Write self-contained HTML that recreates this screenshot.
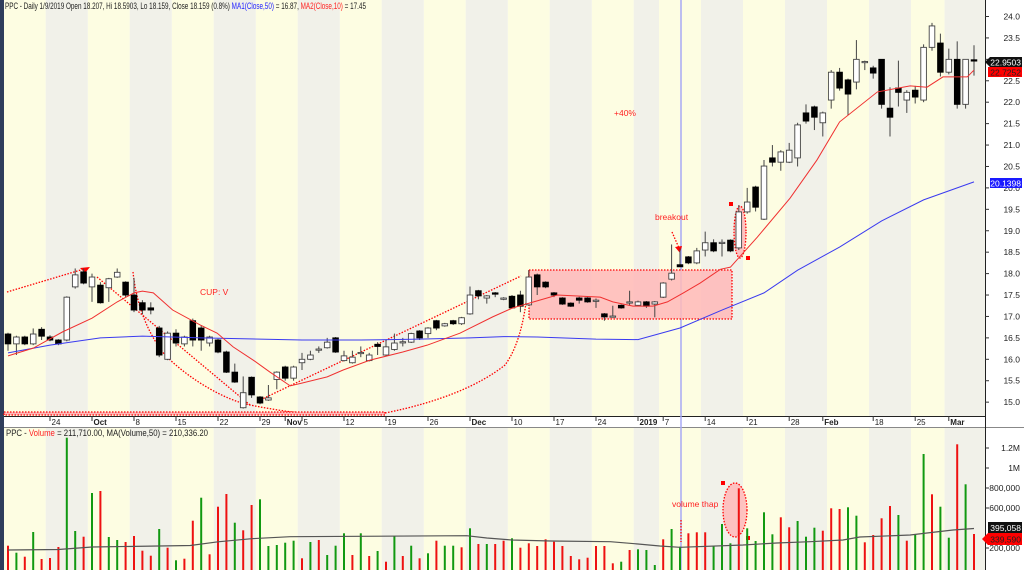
<!DOCTYPE html>
<html><head><meta charset="utf-8"><style>
html,body{margin:0;padding:0;background:#fff;}
svg{display:block;font-family:"Liberation Sans",sans-serif;}
</style></head><body>
<svg id="chart" width="1024" height="570" viewBox="0 0 1024 570" xmlns="http://www.w3.org/2000/svg">
<rect x="0" y="0" width="1024" height="570" fill="#ffffff"/>
<g id="stripes"></g>
<rect x="0" y="0" width="4" height="570" fill="#2f3d5c"/>
<rect x="4" y="416" width="981" height="11" fill="#ffffff"/>
<line x1="4" y1="416.5" x2="985" y2="416.5" stroke="#222"/>
<line x1="4" y1="427.5" x2="1024" y2="427.5" stroke="#888"/>
<line x1="985.5" y1="0" x2="985.5" y2="570" stroke="#222"/>
<g id="dateAxis"></g>
<g id="priceAxis"></g>
<g id="volAxis"></g>
<line x1="681" y1="0" x2="681" y2="570" stroke="#a8aaf5" stroke-width="1.5"/>
<g id="annot" fill="none" stroke="#f00" stroke-width="1.3" stroke-dasharray="1.5,1.5">
  <rect x="529" y="270" width="203" height="49" fill="#ffb8b8" fill-opacity="0.85"/>
  <ellipse cx="740" cy="232" rx="6" ry="26" fill="#ffb8b8" fill-opacity="0.85"/>
  <line x1="7" y1="292" x2="84" y2="269"/>
  <line x1="97" y1="277" x2="250" y2="405"/>
  <path d="M133,272 C136,300 145,330 165,355 C190,380 225,400 250,405 C270,409 290,412 300,413"/>
  <line x1="258" y1="401" x2="521" y2="276"/>
  <path d="M385,413 C440,402 480,385 505,365 C520,345 527,310 529,270"/>
  <rect x="4" y="412" width="381" height="3" fill="#ffb8b8"/>
  <line x1="672" y1="232" x2="679" y2="248"/>
  <ellipse cx="735" cy="510" rx="12" ry="27" fill="#ffb8b8" fill-opacity="0.85"/>
  <line x1="681" y1="520" x2="681" y2="542"/>
</g>
<g fill="#f00">
  <polygon points="80,268 90,267 85,273"/>
  <polygon points="675,247 682,246 680,253"/>
  <rect x="729" y="202" width="4" height="4"/>
  <rect x="746" y="256" width="4" height="4"/>
  <rect x="721" y="481" width="4" height="4"/>
  <rect x="746" y="536" width="4" height="4"/>
</g>
<g id="candles"></g>
<g id="vols"></g>
<polyline id="ma50" fill="none" stroke="#3a3af0" stroke-width="1"/>
<polyline id="ma10" fill="none" stroke="#f03030" stroke-width="1"/>
<polyline id="volma" fill="none" stroke="#555" stroke-width="1.2"/>
<g font-size="8.5" fill="#f22">
  <text x="200" y="295">CUP: V</text>
  <text x="614" y="116">+40%</text>
  <text x="655" y="220">breakout</text>
  <text x="672" y="507">volume thap</text>
</g>
<text x="5" y="9" font-size="9" fill="#222" textLength="361" lengthAdjust="spacingAndGlyphs">PPC - Daily 1/9/2019 Open 18.207, Hi 18.5903, Lo 18.159, Close 18.159 (0.8%) <tspan fill="#22f">MA1(Close,50)</tspan> = 16.87, <tspan fill="#f22">MA2(Close,10)</tspan> = 17.45</text>
<text x="6" y="436" font-size="9" fill="#222" textLength="202" lengthAdjust="spacingAndGlyphs">PPC - <tspan fill="#f22">Volume</tspan> = 211,710.00, MA(Volume,50) = 210,336.20</text>
<g id="boxes" font-size="8.5">
  <polygon points="985,62 990,57 1022,57 1022,67 990,67" fill="#111"/>
  <text x="1021" y="65.5" fill="#fff" text-anchor="end">22.9503</text>
  <rect x="988" y="67" width="34" height="10" fill="#f00"/>
  <text x="1021" y="75.5" fill="#222" text-anchor="end">22.7252</text>
  <rect x="990" y="178" width="32" height="10" fill="#1a1aff"/>
  <text x="1021" y="186.5" fill="#fff" text-anchor="end">20.1398</text>
  <rect x="988" y="522" width="34" height="11" fill="#111"/>
  <text x="1021" y="531" fill="#fff" text-anchor="end">395,058</text>
  <polygon points="982,539 988,533 1022,533 1022,545 988,545" fill="#f00"/>
  <text x="1021" y="542.5" fill="#222" text-anchor="end">339,590</text>
</g>
</svg>
<script>
const opens=[16.59,16.36,16.52,16.36,16.70,16.52,16.45,16.45,17.69,18.04,17.69,17.73,17.67,17.92,17.8,17.5,17.32,17.2,16.73,16.0,16.61,16.36,16.9,16.73,16.38,16.45,16.17,15.7,14.87,15.58,15.12,15.05,15.53,15.82,15.56,15.92,16.0,16.22,16.27,16.5,15.97,15.92,16.14,15.97,16.35,16.1,16.23,16.39,16.4,16.66,16.6,16.9,16.78,16.9,16.83,17.06,17.6,17.43,17.55,17.4,17.47,17.5,17.27,17.97,17.8,17.55,17.43,17.31,17.43,17.43,17.37,17.06,17.0,17.26,17.33,17.26,17.34,17.29,17.45,17.87,18.207,18.39,18.25,18.55,18.72,18.71,18.78,18.6,19.44,20.02,19.27,20.7,20.6,20.6,20.7,21.75,21.89,21.52,22.05,22.7,22.52,22.47,22.93,22.8,23.0,21.86,22.33,22.05,22.28,22.05,23.28,23.38,22.7,23.0,21.95,22.99];
const highs=[16.62,16.55,16.55,16.72,16.75,16.56,16.47,17.47,18.12,18.12,18.0,17.8,17.9,18.12,17.82,17.9,17.38,17.33,16.78,16.65,16.7,16.55,16.95,16.8,16.55,16.48,16.2,15.9,15.6,15.6,15.14,15.4,15.72,15.85,15.85,16.15,16.2,16.3,16.5,16.52,16.2,16.2,16.3,16.15,16.4,16.45,16.6,16.5,16.62,16.68,16.75,16.92,16.85,16.92,16.99,17.7,17.62,17.5,17.57,17.45,17.5,17.6,18.08,18.0,17.82,17.57,17.45,17.33,17.46,17.45,17.42,17.08,17.25,17.28,17.6,17.37,17.36,17.36,17.8,18.68,18.59,18.41,18.6,18.98,18.8,18.8,18.8,19.6,20.0,20.05,20.65,21.0,20.88,21.05,21.52,21.95,21.92,21.78,22.75,22.8,22.55,23.45,22.97,22.85,23.0,22.35,22.97,22.28,22.38,23.35,23.85,23.6,23.25,23.42,23.0,23.33];
const lows=[16.2,16.1,16.33,16.33,16.45,16.42,16.33,16.42,17.65,17.75,17.34,17.3,17.34,17.9,17.45,17.1,17.05,17.05,16.05,15.98,16.3,16.3,16.3,16.2,16.3,16.14,15.68,15.45,14.85,15.1,14.95,15.03,15.3,15.5,15.5,15.75,15.98,16.15,16.25,16.15,15.95,15.9,16.05,15.95,16.1,16.08,16.2,16.3,16.38,16.45,16.5,16.68,16.76,16.8,16.8,17.04,17.4,17.3,17.45,17.38,17.18,17.1,17.25,17.5,17.66,17.45,17.27,17.22,17.3,17.32,17.2,16.9,16.99,17.18,17.25,17.24,17.2,16.98,17.43,17.84,18.159,18.22,18.22,18.4,18.5,18.4,18.5,18.55,19.4,19.45,19.25,20.5,20.4,20.58,20.5,21.5,21.35,21.2,21.85,22.27,21.7,22.3,22.75,22.55,21.85,21.2,21.9,21.75,21.97,22.0,23.2,22.6,22.65,21.85,21.85,22.62];
const closes=[16.36,16.52,16.36,16.59,16.54,16.45,16.36,17.45,17.97,17.78,17.92,17.32,17.88,18.03,17.5,17.15,17.15,17.15,16.1,16.61,16.38,16.52,16.45,16.45,16.52,16.17,15.7,15.47,15.22,15.17,14.98,15.1,15.7,15.56,15.82,16.0,16.1,16.24,16.4,16.17,16.08,16.05,16.16,16.1,16.3,16.29,16.38,16.41,16.6,16.5,16.73,16.73,16.83,16.83,16.97,17.5,17.48,17.48,17.52,17.43,17.2,17.24,17.92,17.69,17.69,17.5,17.29,17.24,17.38,17.34,17.38,16.99,17.01,17.2,17.34,17.34,17.24,17.34,17.78,18.01,18.159,18.25,18.53,18.72,18.53,18.73,18.53,19.44,19.67,19.55,20.51,20.6,20.84,20.88,21.47,21.56,21.65,21.75,22.7,22.33,22.19,23.0,22.95,22.68,21.95,21.65,22.23,22.23,22.12,23.28,23.78,22.7,23.0,21.95,23.0,22.96];
const volumes=[223,153,113,360,90,100,210,1303,370,313,750,770,310,280,260,320,173,123,390,203,77,93,473,703,137,613,740,453,377,630,687,220,230,253,273,97,260,280,130,223,347,130,347,120,170,63,320,120,223,97,147,273,223,223,207,397,240,240,240,273,297,203,247,220,287,263,220,120,87,103,220,220,47,63,180,187,180,30,287,390,213,347,357,357,220,440,247,797,397,270,557,337,507,407,470,313,403,373,597,590,607,523,257,330,497,620,530,273,337,1140,737,613,303,1237,837,340];
const volColors="rgrgrrrggrgrggrrrrgrgrrgrrrgrrgggggrgrgggrgrgrgrgrgrggrgrgrrgrrrrrrrrrrrrgrgggrggrrrgggrggggrrgggrrrggrrrrgrggrggrgr";
const ma50Idx=[0,5,11,16,23,30,35,42,49,55,59,63,70,75,80,85,90,94,99,104,109,115];
const ma50Val=[16.15,16.33,16.5,16.54,16.5,16.47,16.45,16.45,16.47,16.5,16.53,16.52,16.47,16.46,16.73,17.15,17.55,18.08,18.62,19.23,19.72,20.14];
const ma10Idx=[0,3,6.5,10,13,15,16,17.3,19.6,22.9,24.9,26.8,29.2,31.2,33.6,35.1,38,39.9,43.1,47,49.9,53.8,57.7,60.1,63.3,65.4,70.5,72,74.4,76.8,78.5,80.4,82.4,84.8,86,89.2,93.1,96.3,99,103.5,107.4,109.4,111.3,114.2,115];
const ma10Val=[16.08,16.26,16.64,16.96,17.34,17.55,17.59,17.55,17.15,16.8,16.61,16.29,15.98,15.7,15.38,15.45,15.59,15.75,15.98,16.17,16.33,16.61,16.99,17.2,17.38,17.5,17.45,17.34,17.24,17.24,17.34,17.55,17.78,18.1,18.15,18.85,19.76,20.65,21.54,22.24,22.38,22.35,22.59,22.59,22.75];
const volMaIdx=[0,6,10,21.7,25,29,33.6,54.6,57,60,64.6,71.7,75,77.6,80,87.5,91.5,95.5,99.4,101.4,107.4,109.4,112.5,115];
const volMaVal=[180,185,210,225,262,293,313,323,300,280,270,263,240,220,207,230,250,263,280,310,330,350,380,395];
const tickIdx=[5,10,15,20,25,30,33,35,40,45,50,55,60,65,70,75,78,83,88,93,97,103,108,112];
const tickLabels=["24","Oct","8","15","22","29","Nov","5","12","19","26","Dec","10","17","24","2019","7","14","21","28","Feb","18","25","Mar"];
const weekStarts=[5,10,15,20,25,30,35,40,45,50,55,60,65,70,75,78,83,88,93,98,103,108,112];
const priceTicks=[24.0,23.5,23.0,22.5,22.0,21.5,21.0,20.5,20.0,19.5,19.0,18.5,18.0,17.5,17.0,16.5,16.0,15.5,15.0];
const volTicks=[1200,1000,800,600,200];
const volTickLabels=["1.2M","1M","800,000","600,000","200,000"];

const NS="http://www.w3.org/2000/svg";
const xOf=i=>8+8.4*i;
const yP=p=>16.5+(24-p)*42.85;
const yV=v=>568-v/10;
function mk(tag,attrs,parent){const e=document.createElementNS(NS,tag);for(const k in attrs)e.setAttribute(k,attrs[k]);parent.appendChild(e);return e;}

const stripes=document.getElementById('stripes');
const bounds=[4].concat(weekStarts.map(i=>xOf(i)-4.2)).concat([985]);
for(let k=0;k<bounds.length-1;k++){
  const r=mk('rect',{x:bounds[k],y:0,width:bounds[k+1]-bounds[k],height:570,fill:(k%2)?'#f1f1e9':'#fdfde2'},stripes);
  
  
}

const da=document.getElementById('dateAxis');
tickIdx.forEach((t,k)=>{
  const x=xOf(t);
  const l=mk('line',{x1:x,y1:416,x2:x,y2:421,stroke:'#333'},da);
  
  
  const bold=isNaN(parseInt(tickLabels[k]))||tickLabels[k]==="2019";
  const tx=mk('text',{x:x+1.5,y:425,'font-size':8,fill:'#222','font-weight':bold?'bold':'normal'},da);
  tx.textContent=tickLabels[k];
  
  
});

const pa=document.getElementById('priceAxis');
priceTicks.forEach(p=>{
  const y=yP(p);
  const l=mk('line',{x1:985,y1:y,x2:989,y2:y,stroke:'#333'},pa);
  
  
  if(p===23.0)return;
  const t=mk('text',{x:1020,y:y+3,'font-size':8.5,fill:'#222','text-anchor':'end'},pa);
  t.textContent=p.toFixed(1);
  
  
});
const va=document.getElementById('volAxis');
volTicks.forEach((v,k)=>{
  const y=yV(v);
  const l=mk('line',{x1:985,y1:y,x2:989,y2:y,stroke:'#333'},va);
  
  
  const t=mk('text',{x:1020,y:y+3,'font-size':8.5,fill:'#222','text-anchor':'end'},va);
  t.textContent=volTickLabels[k];
  
  
});

const cg=document.getElementById('candles');
opens.forEach((o,i)=>{
  const c=closes[i],x=xOf(i);
  const w=mk('line',{x1:x,y1:yP(highs[i]),x2:x,y2:yP(lows[i]),stroke:'#444','stroke-width':1},cg);
  
  
  const top=yP(Math.max(o,c)),bot=yP(Math.min(o,c));
  const up=c>=o;
  const b=mk('rect',{x:x-2.8,y:top,width:5.6,height:Math.max(1.2,bot-top),fill:up?'#fff':'#000',stroke:up?'#444':'#000','stroke-width':0.9},cg);
  
  
});

const vg=document.getElementById('vols');
volumes.forEach((v,i)=>{
  const x=xOf(i);
  const r=mk('rect',{x:x-1,y:yV(v),width:2,height:568-yV(v)+2,fill:volColors[i]==='g'?'#119911':'#ee1111'},vg);
  
  
});

document.getElementById('ma50').setAttribute('points',ma50Idx.map((t,k)=>xOf(t)+','+yP(ma50Val[k])).join(' '));
document.getElementById('ma10').setAttribute('points',ma10Idx.map((t,k)=>xOf(t)+','+yP(ma10Val[k])).join(' '));
document.getElementById('volma').setAttribute('points',volMaIdx.map((t,k)=>xOf(t)+','+yV(volMaVal[k])).join(' '));
</script>
</body></html>
